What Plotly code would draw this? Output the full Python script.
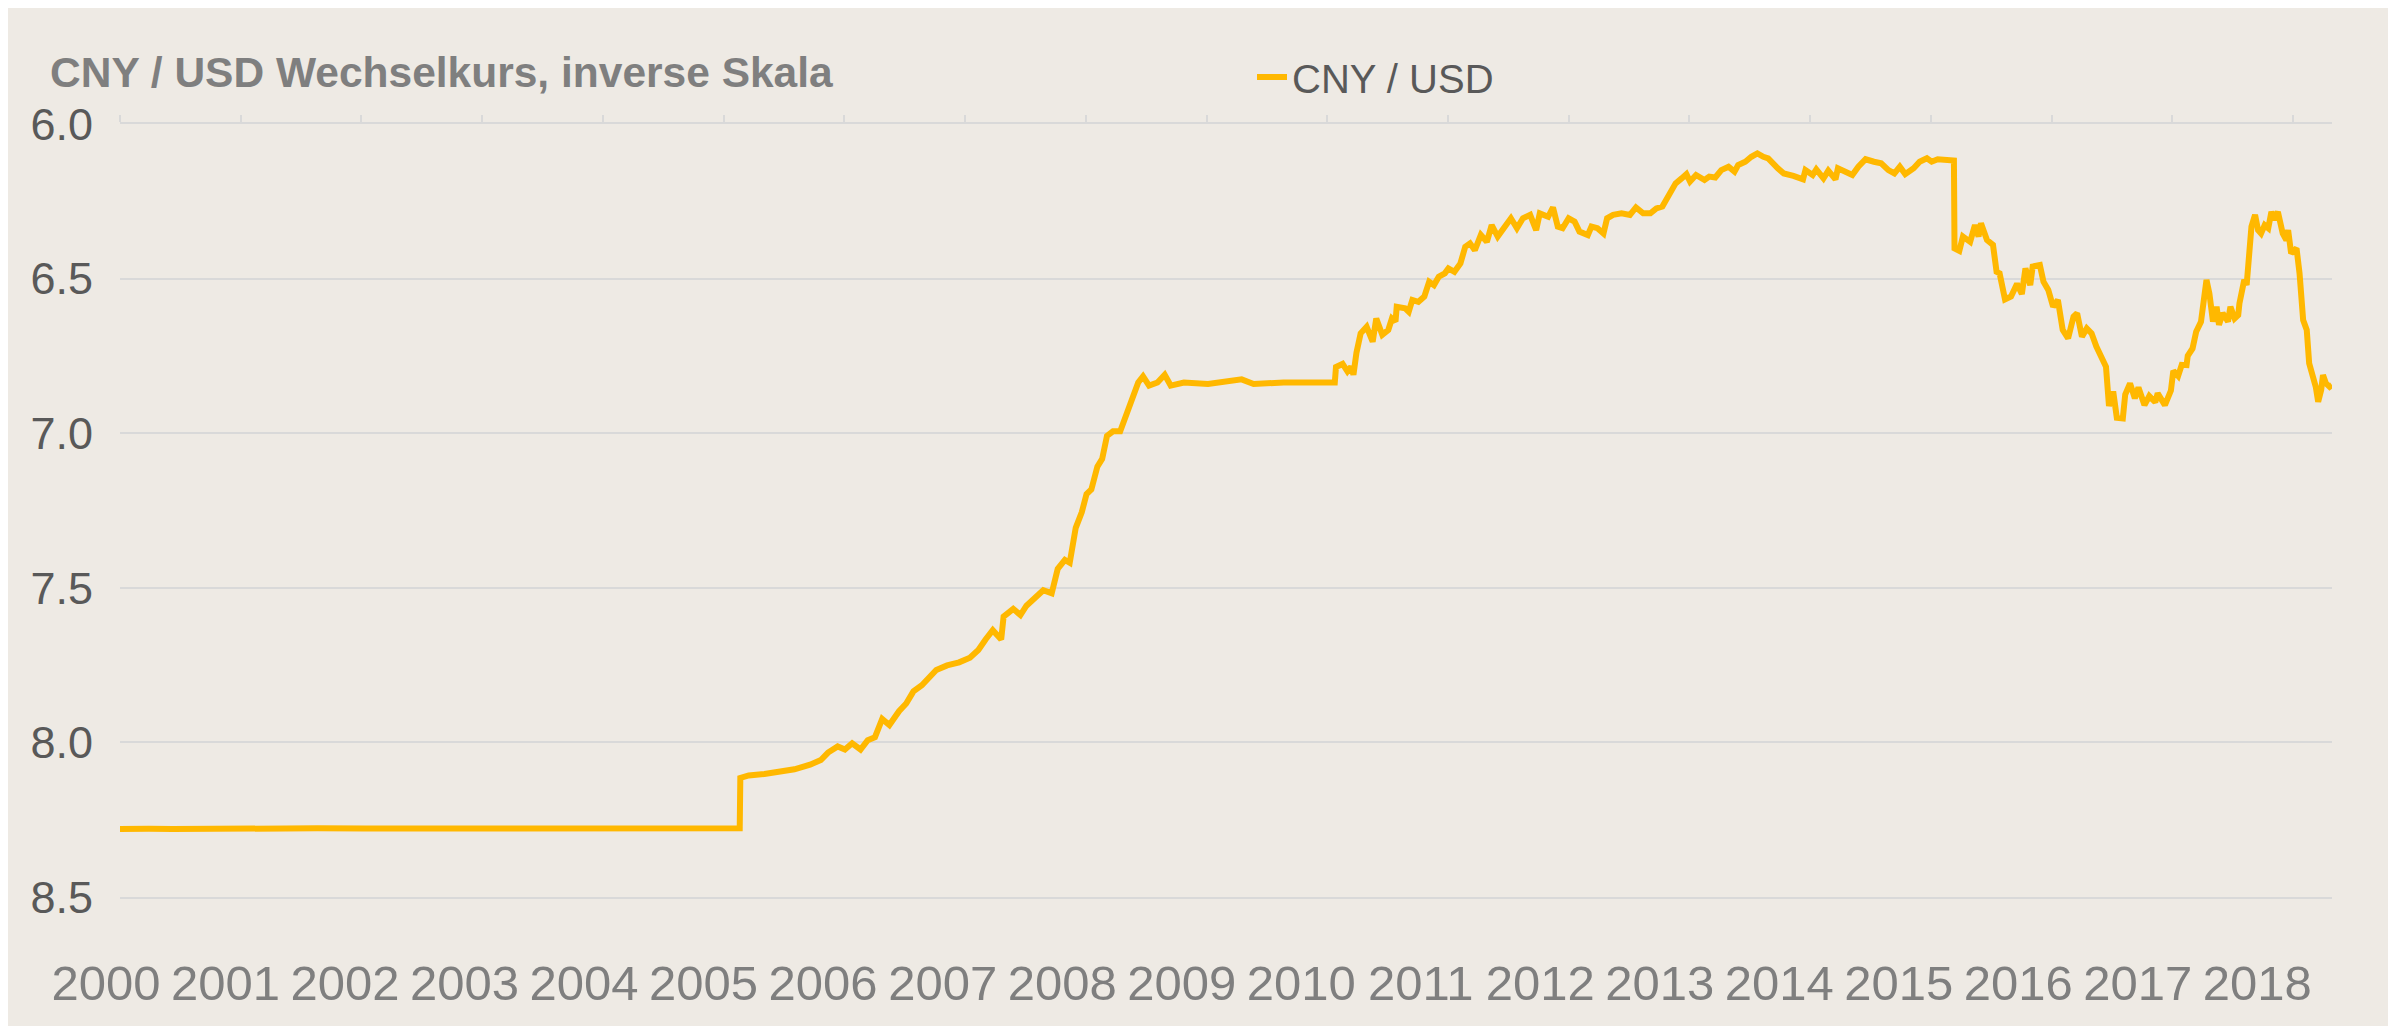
import plotly.graph_objects as go

# ---------------- data ----------------
# time in decimal years, CNY per USD
t = [2000.36, 2000.45, 2000.60, 2000.80, 2001.00, 2001.30, 2001.60, 2002.00, 2002.40, 2002.80,
     2003.20, 2003.60, 2004.00, 2004.40, 2004.80, 2005.20, 2005.515,
     2005.52, 2005.55, 2005.59, 2005.72, 2005.84, 2005.97, 2006.10, 2006.19, 2006.25, 2006.33,
     2006.39, 2006.45, 2006.52, 2006.58, 2006.64, 2006.70, 2006.76, 2006.84, 2006.90, 2006.96,
     2007.03, 2007.09, 2007.15, 2007.24, 2007.34, 2007.43, 2007.50, 2007.56, 2007.62, 2007.69,
     2007.71, 2007.79, 2007.85, 2007.90, 2007.98, 2008.04, 2008.11, 2008.16, 2008.22, 2008.26,
     2008.31, 2008.36, 2008.40, 2008.44, 2008.49, 2008.53, 2008.57, 2008.62, 2008.68, 2008.73,
     2008.78, 2008.83, 2008.87, 2008.92, 2008.99, 2009.05, 2009.10, 2009.21, 2009.41, 2009.69,
     2009.79, 2010.04, 2010.30, 2010.465,
     2010.475, 2010.53, 2010.57, 2010.60, 2010.62, 2010.645, 2010.68, 2010.73, 2010.78, 2010.81,
     2010.86, 2010.91, 2010.94, 2010.97, 2010.98, 2011.05, 2011.08, 2011.11, 2011.16, 2011.21,
     2011.25, 2011.29, 2011.33, 2011.38, 2011.41, 2011.46, 2011.51, 2011.55, 2011.59, 2011.63,
     2011.68, 2011.73, 2011.77, 2011.82, 2011.87, 2011.93, 2011.98, 2012.03, 2012.09, 2012.14,
     2012.17, 2012.24, 2012.28, 2012.32, 2012.36, 2012.41, 2012.46, 2012.50, 2012.57, 2012.60,
     2012.65, 2012.70, 2012.73, 2012.78, 2012.85, 2012.92, 2012.97, 2013.03, 2013.09, 2013.14,
     2013.19, 2013.23, 2013.30, 2013.35, 2013.39, 2013.42, 2013.47, 2013.54, 2013.58, 2013.63,
     2013.68, 2013.74, 2013.79, 2013.82, 2013.88, 2013.93, 2013.98, 2014.03, 2014.07, 2014.15,
     2014.20, 2014.28, 2014.36, 2014.38, 2014.44, 2014.47, 2014.53, 2014.57, 2014.63, 2014.65,
     2014.70, 2014.77, 2014.82, 2014.88, 2014.95, 2015.01, 2015.07, 2015.12, 2015.165, 2015.21,
     2015.28, 2015.33, 2015.39, 2015.43, 2015.48, 2015.615,
     2015.62, 2015.66, 2015.69, 2015.75, 2015.79, 2015.82, 2015.84, 2015.89, 2015.94, 2015.97,
     2015.995, 2016.04, 2016.09, 2016.14, 2016.18, 2016.21, 2016.25, 2016.27, 2016.33, 2016.36,
     2016.40, 2016.44, 2016.48, 2016.52, 2016.565, 2016.61, 2016.64, 2016.68, 2016.72, 2016.76,
     2016.80, 2016.83, 2016.86, 2016.88, 2016.905, 2016.94, 2016.97, 2017.02, 2017.04, 2017.08,
     2017.12, 2017.15, 2017.20, 2017.24, 2017.29, 2017.31, 2017.37, 2017.40, 2017.42, 2017.44,
     2017.48, 2017.51, 2017.55, 2017.56, 2017.60, 2017.63, 2017.67, 2017.716, 2017.74, 2017.77,
     2017.80, 2017.82, 2017.85, 2017.895, 2017.915, 2017.95, 2017.98, 2017.99, 2018.03, 2018.05,
     2018.07, 2018.09, 2018.12, 2018.145, 2018.17, 2018.20, 2018.23, 2018.256, 2018.28, 2018.31,
     2018.35, 2018.38, 2018.395, 2018.42, 2018.465, 2018.49, 2018.52, 2018.55, 2018.57, 2018.60,
     2018.625, 2018.645, 2018.67, 2018.685, 2018.71, 2018.74, 2018.76]

cny_usd = [8.2800, 8.2810, 8.2795, 8.2800, 8.2790, 8.2785, 8.2790, 8.2780, 8.2785, 8.2785,
           8.2780, 8.2785, 8.2780, 8.2780, 8.2775, 8.2780, 8.2780,
           8.1150, 8.1120, 8.1070, 8.1020, 8.0970, 8.0870, 8.0720, 8.0570, 8.0330, 8.0130,
           8.0230, 8.0030, 8.0230, 7.9930, 7.9830, 7.9240, 7.9440, 7.8990, 7.8740, 7.8350,
           7.8150, 7.7900, 7.7660, 7.7510, 7.7410, 7.7260, 7.7010, 7.6670, 7.6370, 7.6670,
           7.5930, 7.5680, 7.5880, 7.5580, 7.5280, 7.5080, 7.5180, 7.4390, 7.4100, 7.4190,
           7.3060, 7.2560, 7.1970, 7.1820, 7.1080, 7.0830, 7.0090, 6.9940, 6.9940, 6.9450,
           6.8850, 6.8360, 6.8160, 6.8460, 6.8360, 6.8110, 6.8460, 6.8360, 6.8410, 6.8260,
           6.8410, 6.8360, 6.8360, 6.8360,
           6.7860, 6.7760, 6.8000, 6.7850, 6.8110, 6.7400, 6.6770, 6.6560, 6.7040, 6.6290,
           6.6820, 6.6660, 6.6290, 6.6390, 6.5910, 6.5960, 6.6070, 6.5690, 6.5750, 6.5580,
           6.5100, 6.5210, 6.4940, 6.4830, 6.4670, 6.4780, 6.4510, 6.3970, 6.3860, 6.4080,
           6.3590, 6.3810, 6.3270, 6.3640, 6.3370, 6.3050, 6.3370, 6.3050, 6.2940, 6.3430,
           6.2890, 6.3000, 6.2700, 6.3320, 6.3370, 6.3050, 6.3160, 6.3480, 6.3590, 6.3320,
           6.3370, 6.3540, 6.3050, 6.2940, 6.2890, 6.2940, 6.2700, 6.2890, 6.2890, 6.2730,
           6.2670, 6.2400, 6.1920, 6.1760, 6.1620, 6.1860, 6.1650, 6.1810, 6.1700, 6.1730,
           6.1490, 6.1380, 6.1540, 6.1330, 6.1220, 6.1060, 6.0950, 6.1060, 6.1110, 6.1430,
           6.1600, 6.1680, 6.1790, 6.1490, 6.1650, 6.1470, 6.1760, 6.1510, 6.1790, 6.1430,
           6.1540, 6.1650, 6.1380, 6.1140, 6.1220, 6.1270, 6.1490, 6.1600, 6.1380, 6.1620,
           6.1430, 6.1220, 6.1110, 6.1220, 6.1140, 6.1180,
           6.4020, 6.4100, 6.3640, 6.3810, 6.3270, 6.3640, 6.3210, 6.3750, 6.3910, 6.4780,
           6.4830, 6.5670, 6.5580, 6.5170, 6.5500, 6.4670, 6.5210, 6.4610, 6.4560, 6.5100,
           6.5370, 6.5910, 6.5690, 6.6660, 6.6930, 6.6230, 6.6120, 6.6880, 6.6610, 6.6770,
           6.7200, 6.7450, 6.7650, 6.7850, 6.9120, 6.8650, 6.9500, 6.9520, 6.8750, 6.8390,
           6.8870, 6.8520, 6.9090, 6.8800, 6.9000, 6.8710, 6.9090, 6.8740, 6.8620, 6.7980,
           6.8150, 6.7790, 6.7800, 6.7500, 6.7260, 6.6720, 6.6400, 6.5040, 6.5480, 6.6390,
           6.5910, 6.6500, 6.6120, 6.6390, 6.5910, 6.6290, 6.6180, 6.5800, 6.5040, 6.5210,
           6.4180, 6.3320, 6.2940, 6.3430, 6.3540, 6.3270, 6.3370, 6.2840, 6.3100, 6.2840,
           6.3540, 6.3750, 6.3430, 6.4180, 6.4020, 6.4830, 6.6340, 6.6660, 6.7740, 6.8170,
           6.8500, 6.8980, 6.8600, 6.8120, 6.8390, 6.8500, 6.8440]

year_labels = [str(y) for y in range(2000, 2019)]
y_ticks = [6.0, 6.5, 7.0, 7.5, 8.0, 8.5]

series_name = "CNY / USD"
title_text = "CNY / USD Wechselkurs, inverse Skala"

# ---------------- styling / layout ----------------
OFF = 8                     # default page body margin of the html file
W, H = 2397 - OFF, 1029 - OFF
ML, MR, MT, MB = 112, 65, 116, 132
PW, PH = W - ML - MR, H - MT - MB
BG = "#EEEAE4"
GRID = "#D9D9D9"
LINE = "#FFB800"
FONT = "Liberation Sans, Arial, sans-serif"

x_range = [t[0], t[-1]]
n = len(year_labels)
TICK_STEP = 1.0042          # spacing of the small marks on the top axis
LABEL_STEP = 0.9942         # spacing of the year labels at the bottom
tick_pos = [t[0] + k * TICK_STEP for k in range(n)]
label_pos = [t[0] + k * LABEL_STEP for k in range(n)]

fig = go.Figure()
fig.add_trace(go.Scatter(
    x=t, y=cny_usd, mode="lines", name=series_name,
    line=dict(color=LINE, width=6),
    xaxis="x", yaxis="y", hoverinfo="x+y",
))
# invisible helper trace so that the top (tick-mark) axis is drawn
fig.add_trace(go.Scatter(
    x=x_range, y=[y_ticks[-1], y_ticks[-1]], mode="lines",
    line=dict(color="rgba(0,0,0,0)", width=0),
    xaxis="x2", yaxis="y", showlegend=False, hoverinfo="skip",
))

fig.update_layout(
    width=W, height=H,
    margin=dict(l=ML, r=MR, t=MT, b=MB, pad=0),
    paper_bgcolor="white",
    plot_bgcolor="rgba(0,0,0,0)",
    font=dict(family=FONT, color="#595959"),
    title=dict(
        text=title_text, x=(50 - OFF) / W, xref="container", xanchor="left",
        y=1 - (72 - OFF) / H, yref="container", yanchor="middle",
        font=dict(family=FONT, size=42.5, color="#7F7F7F", weight="bold"),
    ),
    showlegend=True,
    legend=dict(
        x=(1252 - OFF - ML) / PW, xanchor="left",
        y=(MT + PH - (77 - OFF)) / PH, yanchor="middle",
        orientation="h", bgcolor="rgba(0,0,0,0)",
        font=dict(family=FONT, size=40, color="#595959"),
        itemwidth=30,
    ),
    xaxis=dict(
        range=x_range, side="bottom", anchor="y",
        tickmode="array", tickvals=label_pos, ticktext=year_labels,
        ticks="", showgrid=False, zeroline=False,
        showline=True, linecolor=GRID, linewidth=2,
        ticklabelshift=-14, ticklabelstandoff=42,
        tickfont=dict(family=FONT, size=49, color="#7F7F7F"),
    ),
    xaxis2=dict(
        range=x_range, overlaying="x", matches="x", side="top", anchor="y",
        tickmode="array", tickvals=tick_pos,
        ticks="outside", ticklen=7, tickwidth=2, tickcolor=GRID,
        showticklabels=False, showgrid=False, zeroline=False,
        showline=True, linecolor=GRID, linewidth=2,
    ),
    yaxis=dict(
        range=[y_ticks[-1], y_ticks[0]],
        tickmode="array", tickvals=y_ticks, tickformat=".1f",
        showgrid=True, gridcolor=GRID, gridwidth=2,
        zeroline=False, showline=False, ticks="",
        ticklabelstandoff=26,
        tickfont=dict(family=FONT, size=45, color="#595959"),
    ),
    shapes=[dict(
        type="rect", xref="paper", yref="paper", layer="below",
        x0=(0 - ML) / PW, x1=(2388 - OFF - ML) / PW,
        y0=(MT + PH - (1026 - OFF)) / PH, y1=(MT + PH) / PH,
        fillcolor=BG, line=dict(width=0),
    )],
)
fig.layout.shapes[0].y1 = (MT + PH - 0) / PH

fig.write_html("out.html")
